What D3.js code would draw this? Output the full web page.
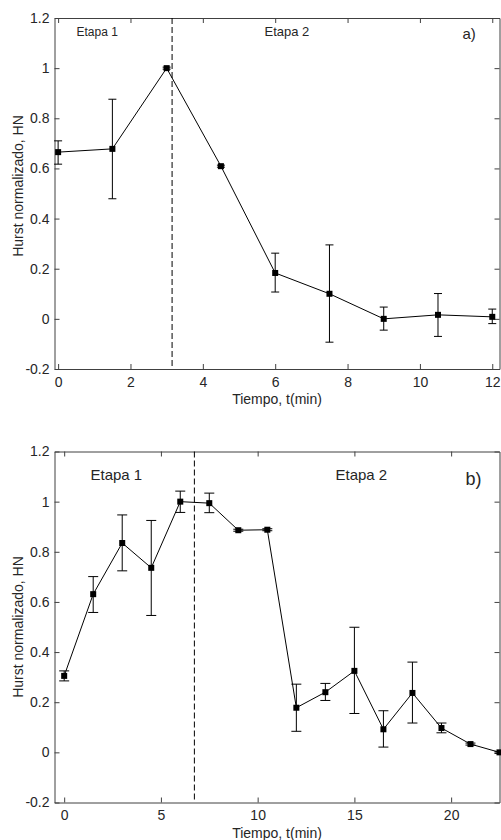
<!DOCTYPE html>
<html>
<head>
<meta charset="utf-8">
<script src="https://cdn.jsdelivr.net/npm/d3@7"></script>
<style>
  body { margin: 0; background: #fff; }
  svg { display: block; }
  text { font-family: "Liberation Sans", Arial, Helvetica, sans-serif; fill: #262626; }
  .axis path, .axis line { stroke: #404040; }
</style>
</head>
<body>
<div id="chart"></div>
<script>
// panel a)
var tA  = [0, 1.5, 3, 4.5, 6, 7.5, 9, 10.5, 12];
var hnA = [0.665, 0.678, 1.0, 0.609, 0.183, 0.100, 0.0, 0.016, 0.008];
var loA = [0.617, 0.479, 0.996, 0.605, 0.107, -0.093, -0.045, -0.070, -0.019];
var hiA = [0.710, 0.876, 1.004, 0.613, 0.262, 0.295, 0.047, 0.101, 0.039];
var ticksXA = [0, 2, 4, 6, 8, 10, 12];
var stageA = 3.15;

// panel b)
var tB  = [0, 1.5, 3, 4.5, 6, 7.5, 9, 10.5, 12, 13.5, 15, 16.5, 18, 19.5, 21, 22.5];
var hnB = [0.305, 0.631, 0.835, 0.736, 1.0, 0.994, 0.886, 0.888, 0.178, 0.240, 0.325, 0.092, 0.237, 0.097, 0.033, 0.0];
var loB = [0.285, 0.558, 0.724, 0.546, 0.957, 0.956, 0.882, 0.884, 0.084, 0.207, 0.155, 0.021, 0.117, 0.078, 0.029, -0.004];
var hiB = [0.325, 0.701, 0.947, 0.925, 1.042, 1.034, 0.890, 0.892, 0.272, 0.275, 0.499, 0.166, 0.360, 0.117, 0.037, 0.004];
var ticksXB = [0, 5, 10, 15, 20];
var stageB = 6.73;

var ticksY = [-0.2, 0, 0.2, 0.4, 0.6, 0.8, 1, 1.2];
var xLabel = "Tiempo, t(min)";
var yLabel = "Hurst normalizado, HN";

var svg = d3.select("#chart").append("svg")
    .attr("width", 501)
    .attr("height", 840);

function drawPanel(p) {
    var x = d3.scaleLinear().domain(p.xDomain).range([p.left, p.right]);
    var y = d3.scaleLinear().domain([-0.2, 1.2]).range([p.bottom, p.top]);
    var fmt = function(d) { return String(+d.toFixed(1)); };

    var g = svg.append("g");

    // box axes, ticks pointing inward
    g.append("g").attr("class", "axis")
        .attr("transform", "translate(0," + p.bottom + ")")
        .call(d3.axisBottom(x).tickValues(p.ticksX).tickFormat(fmt)
            .tickSizeInner(-5).tickSizeOuter(0).tickPadding(8))
        .call(function(a) { a.selectAll("text").style("font-size", "14px"); a.attr("font-family", null); });
    g.append("g").attr("class", "axis")
        .attr("transform", "translate(0," + p.top + ")")
        .call(d3.axisTop(x).tickValues(p.ticksX).tickFormat("")
            .tickSizeInner(-5).tickSizeOuter(0));
    g.append("g").attr("class", "axis")
        .attr("transform", "translate(" + p.left + ",0)")
        .call(d3.axisLeft(y).tickValues(ticksY).tickFormat(fmt)
            .tickSizeInner(-5).tickSizeOuter(0).tickPadding(5))
        .call(function(a) { a.selectAll("text").style("font-size", "14px"); a.attr("font-family", null); });
    g.append("g").attr("class", "axis")
        .attr("transform", "translate(" + p.right + ",0)")
        .call(d3.axisRight(y).tickValues(ticksY).tickFormat("")
            .tickSizeInner(-5).tickSizeOuter(0));

    // stage divider
    g.append("line")
        .attr("x1", x(p.stage)).attr("x2", x(p.stage))
        .attr("y1", p.top).attr("y2", p.bottom)
        .attr("stroke", "#000").attr("stroke-width", 1)
        .attr("stroke-dasharray", "6,3");

    var pts = p.t.map(function(t, i) {
        return { t: t, v: p.hn[i], lo: p.lo[i], hi: p.hi[i] };
    });

    // error bars
    var eb = g.selectAll(".eb").data(pts).enter().append("g");
    eb.append("line")
        .attr("x1", function(d) { return x(d.t); })
        .attr("x2", function(d) { return x(d.t); })
        .attr("y1", function(d) { return y(d.lo); })
        .attr("y2", function(d) { return y(d.hi); })
        .attr("stroke", "#000");
    eb.append("line")
        .attr("x1", function(d) { return x(d.t) - p.cap; })
        .attr("x2", function(d) { return x(d.t) + p.cap; })
        .attr("y1", function(d) { return y(d.lo); })
        .attr("y2", function(d) { return y(d.lo); })
        .attr("stroke", "#000");
    eb.append("line")
        .attr("x1", function(d) { return x(d.t) - p.cap; })
        .attr("x2", function(d) { return x(d.t) + p.cap; })
        .attr("y1", function(d) { return y(d.hi); })
        .attr("y2", function(d) { return y(d.hi); })
        .attr("stroke", "#000");

    // data line
    g.append("path")
        .datum(pts)
        .attr("fill", "none")
        .attr("stroke", "#000")
        .attr("stroke-width", 1)
        .attr("d", d3.line().x(function(d) { return x(d.t); }).y(function(d) { return y(d.v); }));

    // markers
    g.selectAll(".mk").data(pts).enter().append("rect")
        .attr("x", function(d) { return x(d.t) - 3; })
        .attr("y", function(d) { return y(d.v) - 3; })
        .attr("width", 6)
        .attr("height", 6)
        .attr("fill", "#000");

    // labels
    g.append("text")
        .attr("x", (p.left + p.right) / 2)
        .attr("y", p.bottom + 35)
        .attr("text-anchor", "middle")
        .style("font-size", "14px")
        .text(xLabel);
    g.append("text")
        .attr("transform", "translate(23," + p.yLabelMid + ") rotate(-90)")
        .attr("text-anchor", "middle")
        .style("font-size", "14px")
        .text(yLabel);

    g.append("text").attr("x", p.left + p.et1[0]).attr("y", p.top + p.et1[1])
        .style("font-size", p.et1[2] + "px").text("Etapa 1");
    g.append("text").attr("x", p.left + p.et2[0]).attr("y", p.top + p.et2[1])
        .style("font-size", p.et2[2] + "px").text("Etapa 2");
    g.append("text").attr("x", p.left + p.tag[0]).attr("y", p.top + p.tag[1])
        .style("font-size", p.tag[2] + "px").text(p.tagText);
}

drawPanel({
    t: tA, hn: hnA, lo: loA, hi: hiA, ticksX: ticksXA, stage: stageA,
    xDomain: [-0.1, 12.2],
    left: 54.5, right: 499.5, top: 18, bottom: 369,
    cap: 4, yLabelMid: 186,
    et1: [22, 18, 12], et2: [210, 18, 13], tag: [408, 21, 15], tagText: "a)"
});

drawPanel({
    t: tB, hn: hnB, lo: loB, hi: hiB, ticksX: ticksXB, stage: stageB,
    xDomain: [-0.5, 22.5],
    left: 54.5, right: 499.5, top: 451.5, bottom: 802.5,
    cap: 5, yLabelMid: 627,
    et1: [36, 28, 15], et2: [281, 28.5, 15], tag: [411, 33, 18], tagText: "b)"
});
</script>
</body>
</html>
